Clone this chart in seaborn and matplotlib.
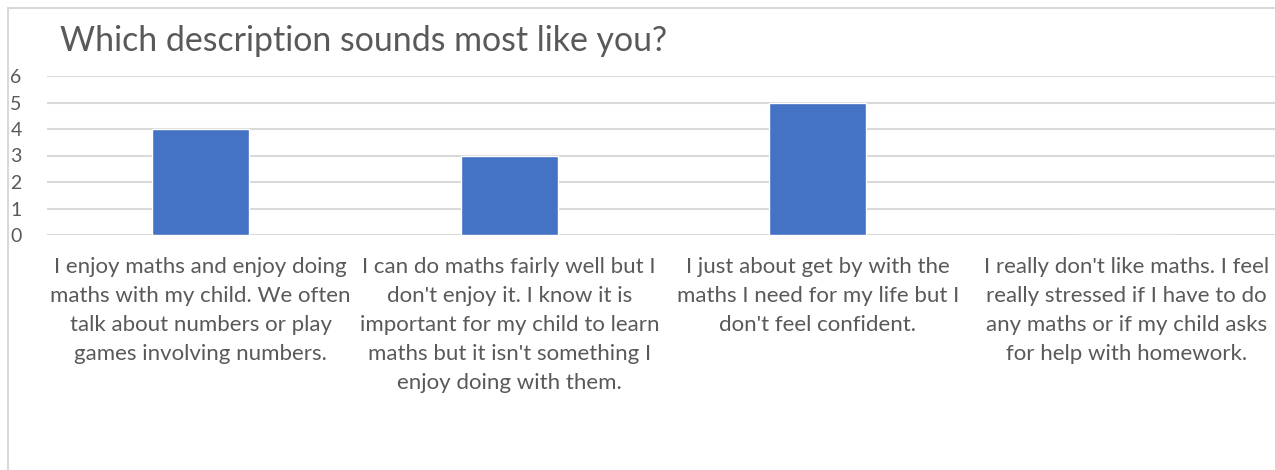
import matplotlib
matplotlib.use("Agg")
import matplotlib.pyplot as plt
import seaborn as sns
import pandas as pd
from matplotlib.patches import Rectangle

categories = [
    "I enjoy maths and enjoy doing\nmaths with my child. We often\ntalk about numbers or play\ngames involving numbers.",
    "I can do maths fairly well but I\ndon't enjoy it. I know it is\nimportant for my child to learn\nmaths but it isn't something I\nenjoy doing with them.",
    "I just about get by with the\nmaths I need for my life but I\ndon't feel confident.",
    "I really don't like maths. I feel\nreally stressed if I have to do\nany maths or if my child asks\nfor help with homework.",
]
values = [4, 3, 5, 0]
title = "Which description sounds most like you?"

sns.set_theme(style="white")
plt.rcParams['font.family'] = ['Lato', 'DejaVu Sans']

W, H = 1275, 470
fig = plt.figure(figsize=(W / 100, H / 100), dpi=100)
fig.patch.set_facecolor("white")

left_px, right_px, bottom_px, top_px = 46.5, 1280.5, 235, 76
ax = fig.add_axes([left_px / W, 1 - bottom_px / H, (right_px - left_px) / W, (bottom_px - top_px) / H])

df = pd.DataFrame({"cat": categories, "val": values})
sns.barplot(data=df, x="cat", y="val", color="#4472C4", width=0.315, saturation=1, ax=ax, zorder=3)

ax.set_ylim(0, 6)
ax.set_xlim(-0.5, 3.5)
ax.set_yticks(range(0, 7))
ax.yaxis.grid(True, color="#D9D9D9", linewidth=1.5, zorder=0)
ax.set_axisbelow(True)
for s in ax.spines.values():
    s.set_visible(False)
ax.set_xlabel("")
ax.set_ylabel("")
ax.tick_params(axis="y", length=0, pad=26, labelsize=14, labelcolor="#595959")
ax.tick_params(axis="x", length=0, pad=16, labelsize=16, labelcolor="#595959")
for lbl in ax.get_yticklabels():
    lbl.set_horizontalalignment("left")
for lbl in ax.get_xticklabels():
    lbl.set_multialignment("center")
    lbl.set_linespacing(1.56)

fig.text(60 / W, 1 - 41 / H, title, ha="left", va="center", fontsize=24.4, color="#595959")

fig.patches.append(Rectangle((8 / W, -0.1), 1.2, 1 - 8 / H + 0.1, transform=fig.transFigure,
                             fill=False, edgecolor="#D9D9D9", linewidth=1.5))

fig.savefig("out.png", dpi=100)
